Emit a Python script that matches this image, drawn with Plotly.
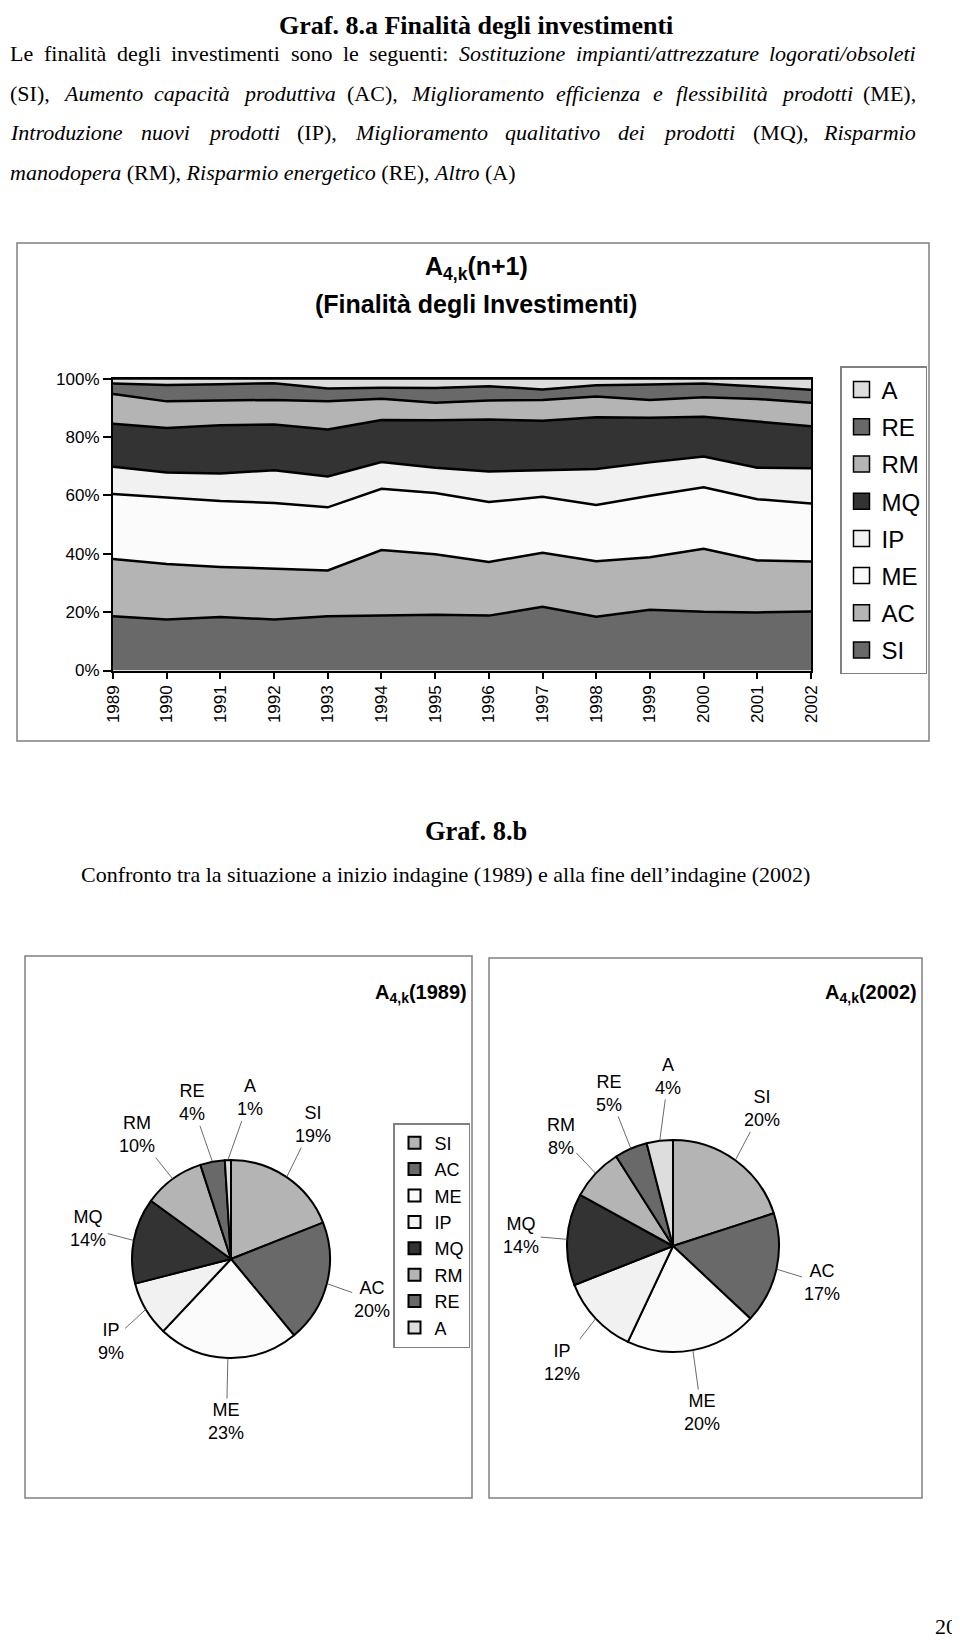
import math
import plotly.graph_objects as go

W, H = 960, 1640
OFF = 8  # the page is shown with an 8px body margin

# ---------------- data ----------------
years = list(range(1989, 2003))
series_names = ["SI", "AC", "ME", "IP", "MQ", "RM", "RE", "A"]
SI = [18.6, 17.5, 18.3, 17.5, 18.6, 18.9, 19.1, 18.8, 21.8, 18.4, 20.8, 20.1, 19.9, 20.2]
AC = [19.6, 19.0, 17.2, 17.3, 15.7, 22.4, 20.7, 18.4, 18.5, 19.0, 18.0, 21.6, 17.8, 17.1]
ME = [22.3, 22.7, 22.6, 22.6, 21.6, 21.0, 21.0, 20.5, 19.2, 19.3, 21.1, 21.1, 21.0, 19.9]
IP = [9.3, 8.6, 9.4, 11.2, 10.6, 9.2, 8.7, 10.5, 9.1, 12.3, 11.4, 10.5, 10.8, 12.1]
MQ = [14.7, 15.3, 16.5, 15.7, 16.1, 14.4, 16.2, 17.8, 17.0, 17.8, 15.3, 13.6, 15.8, 14.4]
RM = [10.2, 9.1, 8.5, 8.4, 9.6, 7.3, 6.0, 6.5, 7.1, 7.1, 6.1, 6.7, 7.7, 8.0]
RE = [3.6, 5.6, 5.6, 5.7, 4.4, 3.8, 5.1, 4.9, 3.6, 3.8, 5.3, 4.7, 4.3, 4.5]
A = [1.7, 2.2, 1.9, 1.6, 3.4, 3.1, 3.2, 2.6, 3.7, 2.3, 2.0, 1.7, 2.7, 3.8]
area_values = [SI, AC, ME, IP, MQ, RM, RE, A]
y_ticks = [0, 20, 40, 60, 80, 100]
y_tick_labels = ["0%", "20%", "40%", "60%", "80%", "100%"]

pie_labels = ["SI", "AC", "ME", "IP", "MQ", "RM", "RE", "A"]
pie_1989 = [19, 20, 23, 9, 14, 10, 4, 1]
pie_2002 = [20, 17, 20, 12, 14, 8, 5, 4]

# ---------------- styles ----------------
area_colors = ["#696969", "#b4b4b4", "#fbfbfb", "#f1f1f1", "#333333", "#b4b4b4", "#696969", "#dddddd"]
pie_colors = ["#b4b4b4", "#696969", "#fbfbfb", "#f1f1f1", "#333333", "#b4b4b4", "#696969", "#dddddd"]
SANS = "Liberation Sans, Arial, sans-serif"
SERIF = "Liberation Serif, Times New Roman, serif"


def px(x):
    return (x - OFF) / W


def py(y):
    return 1 - (y - OFF) / H


fig = go.Figure()

# stacked 100% area chart
for i, (name, vals) in enumerate(zip(series_names, area_values)):
    fig.add_trace(go.Scatter(
        x=years, y=vals, name=name, mode="lines",
        stackgroup="one", groupnorm="percent" if i == 0 else None,
        line=dict(color="black", width=2.5),
        fillcolor=area_colors[i], showlegend=False,
        hovertemplate=name + " %{x}: %{y:.1f}%<extra></extra>",
    ))

# legend entries for the area chart (square swatches), A on top
for i in reversed(range(len(series_names))):
    name = series_names[i]
    fig.add_trace(go.Scatter(
        x=[None], y=[None], mode="markers", name=name, legendgroup=name,
        marker=dict(symbol="square", size=16, color=area_colors[i],
                    line=dict(color="black", width=1.5)),
        legend="legend", showlegend=True, hoverinfo="skip",
    ))


def spread(angles, min_sep, passes=60):
    a = list(angles)
    n = len(a)
    for _ in range(passes):
        for j in range(n):
            k2 = (j + 1) % n
            d = (a[k2] - a[j]) % 360
            if d < min_sep:
                push = (min_sep - d) / 2.0
                a[j] -= push
                a[k2] += push
    return a


# pies (centre / radius in page pixels)
PIES = [
    dict(values=pie_1989, name="1989", legend="legend2", cx=231, cy=1259, r=99),
    dict(values=pie_2002, name="2002", legend="legend3", cx=673, cy=1246, r=106),
]
LABEL_SIZE = 18
GAP_X, GAP_Y = 30, 42
for p in PIES:
    fig.add_trace(go.Pie(
        labels=pie_labels, values=p["values"], name=p["name"], legend=p["legend"],
        sort=False, direction="clockwise", rotation=0, textinfo="none",
        marker=dict(colors=pie_colors, line=dict(color="black", width=2)),
        domain=dict(x=[px(p["cx"] - p["r"]), px(p["cx"] + p["r"])],
                    y=[py(p["cy"] + p["r"]), py(p["cy"] - p["r"])]),
        showlegend=True,
    ))
    # outside labels with leader lines
    total = float(sum(p["values"]))
    mids, cum = [], 0.0
    for v in p["values"]:
        mids.append(360.0 * (cum + v / 2.0) / total)
        cum += v
    lab_angles = spread(mids, 24)
    for lab, v, m, la in zip(pie_labels, p["values"], mids, lab_angles):
        pct = f"{round(100 * v / total)}%"
        rim_x = p["cx"] + p["r"] * math.sin(math.radians(m))
        rim_y = p["cy"] - p["r"] * math.cos(math.radians(m))
        dx, dy = math.sin(math.radians(la)), -math.cos(math.radians(la))
        hw = 0.3 * LABEL_SIZE * max(len(lab), len(pct))
        hh = 1.2 * LABEL_SIZE
        lx = p["cx"] + (p["r"] + GAP_X + hw) * dx
        ly = p["cy"] + (p["r"] + GAP_Y + hh) * dy
        fig.add_annotation(
            x=px(rim_x), y=py(rim_y), xref="paper", yref="paper",
            ax=lx - rim_x, ay=ly - rim_y,
            text=f"{lab}<br>{pct}", showarrow=True,
            arrowhead=0, arrowwidth=0.8, arrowcolor="#444444", standoff=0,
            font=dict(family=SANS, size=LABEL_SIZE, color="black"),
        )

axis_common = dict(showline=True, linecolor="black", linewidth=2, mirror=True,
                   ticks="outside", tickcolor="black", tickwidth=1.5,
                   showgrid=False, zeroline=False,
                   tickfont=dict(family=SANS, size=17, color="black"))

fig.update_layout(
    width=W, height=H, autosize=False,
    margin=dict(l=0, r=0, t=0, b=0, pad=0, autoexpand=False),
    paper_bgcolor="white", plot_bgcolor="white",
    font=dict(family=SANS, color="black"),
    xaxis=dict(domain=[px(113), px(811)], range=[1989, 2002], tickvals=years,
               tickangle=-90, ticklen=6, **axis_common),
    yaxis=dict(domain=[py(670.5), py(378.6)], range=[0, 100], tickvals=y_ticks,
               ticktext=y_tick_labels, ticklen=8, **axis_common),
    legend=dict(x=px(840), y=py(366), xanchor="left", yanchor="top",
                traceorder="grouped", tracegroupgap=3,
                font=dict(family=SANS, size=24, color="black"),
                bordercolor="#808080", borderwidth=1.5, bgcolor="white"),
    legend2=dict(x=px(470), y=py(1123), xanchor="right", yanchor="top",
                 font=dict(family=SANS, size=18, color="black"),
                 bordercolor="#808080", borderwidth=1.5, bgcolor="white"),
    legend3=dict(x=px(919), y=py(1127), xanchor="right", yanchor="top",
                 font=dict(family=SANS, size=18, color="black"),
                 bordercolor="#808080", borderwidth=1.5, bgcolor="white"),
)

# frames
box = dict(type="rect", xref="paper", yref="paper", line=dict(color="#808080", width=1.5),
           fillcolor="rgba(0,0,0,0)", layer="below")
fig.add_shape(x0=px(17), x1=px(929), y0=py(741), y1=py(243), **box)
fig.add_shape(x0=px(25), x1=px(472), y0=py(1498), y1=py(956), **box)
fig.add_shape(x0=px(489), x1=px(922), y0=py(1498), y1=py(958), **box)


def ann(text, x, y, size, family=SERIF, xanchor="left"):
    fig.add_annotation(text=text, x=px(x), y=py(y), xref="paper", yref="paper",
                       xanchor=xanchor, yanchor="middle", showarrow=False,
                       borderpad=0, font=dict(family=family, size=size, color="black"))


# approximate Times widths (1/1000 em) for justification
ROMAN = dict(zip("abcdefghijklmnopqrstuvwxyzà", [444, 500, 444, 500, 444, 333, 500, 500, 278, 278, 500, 278, 778,
                                                 500, 500, 500, 500, 333, 389, 278, 500, 500, 722, 500, 500, 444, 444]))
ROMAN.update({"A": 722, "C": 667, "E": 611, "I": 333, "L": 611, "M": 889, "P": 556, "Q": 722,
              "R": 667, "S": 556, "(": 333, ")": 333, ",": 250, ":": 278, "/": 278, ".": 250})
ITALIC = dict(zip("abcdefghijklmnopqrstuvwxyzà", [500, 500, 444, 500, 444, 278, 500, 500, 278, 278, 444, 278, 722,
                                                  500, 500, 500, 500, 389, 389, 278, 500, 444, 667, 444, 444, 389, 500]))
ITALIC.update({"A": 611, "I": 333, "M": 833, "R": 611, "S": 500, "(": 333, ")": 333, ",": 250,
               ":": 333, "/": 278, ".": 250})


def word_w(word, italic, size):
    table = ITALIC if italic else ROMAN
    return sum(table.get(c, 500) for c in word) / 1000.0 * size


def justify(tokens, y, size, x0=9, x1=917):
    widths = [word_w(w, it, size) for w, it in tokens]
    gap = (x1 - x0 - sum(widths)) / (len(tokens) - 1)
    x = x0
    for n, ((w, it), wd) in enumerate(zip(tokens, widths)):
        t = f"<i>{w}</i>" if it else w
        if n == len(tokens) - 1:
            ann(t, x1, y, size, xanchor="right")
        else:
            ann(t, x, y, size)
        x += wd + gap


B = 22
ann("<b>Graf. 8.a Finalità degli investimenti</b>", 476, 25, 26, xanchor="center")
line1 = [("Le", 0), ("finalità", 0), ("degli", 0), ("investimenti", 0), ("sono", 0), ("le", 0),
         ("seguenti:", 0), ("Sostituzione", 1), ("impianti/attrezzature", 1), ("logorati/obsoleti", 1)]
line2 = [("(SI),", 0), ("Aumento", 1), ("capacità", 1), ("produttiva", 1), ("(AC),", 0),
         ("Miglioramento", 1), ("efficienza", 1), ("e", 1), ("flessibilità", 1), ("prodotti", 1), ("(ME),", 0)]
line3 = [("Introduzione", 1), ("nuovi", 1), ("prodotti", 1), ("(IP),", 0), ("Miglioramento", 1),
         ("qualitativo", 1), ("dei", 1), ("prodotti", 1), ("(MQ),", 0), ("Risparmio", 1)]
justify(line1, 53, B)
justify(line2, 93, B)
justify(line3, 133, B)
ann("<i>manodopera</i> (RM), <i>Risparmio energetico</i> (RE), <i>Altro</i> (A)", 9, 173, B)

# chart titles
ann("<b>A<sub>4,k</sub>(n+1)</b>", 476, 268, 25, family=SANS, xanchor="center")
ann("<b>(Finalità degli Investimenti)</b>", 476, 304, 25, family=SANS, xanchor="center")

ann("<b>Graf. 8.b</b>", 476, 831, 26.5, xanchor="center")
ann("Confronto tra la situazione a inizio indagine (1989) e alla fine dell\u2019indagine (2002)",
    80, 874, B)

ann("<b>A<sub>4,k</sub>(1989)</b>", 468, 993, 20, family=SANS, xanchor="right")
ann("<b>A<sub>4,k</sub>(2002)</b>", 918, 993, 20, family=SANS, xanchor="right")

ann("20", 958, 1626, 22, xanchor="right")

fig.write_html("out.html")
